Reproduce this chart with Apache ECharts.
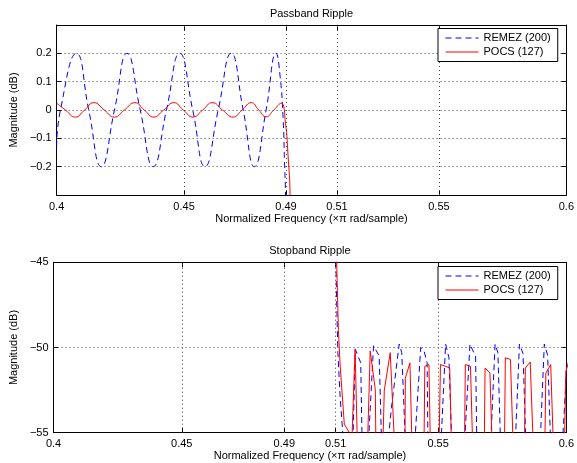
<!DOCTYPE html>
<html>
<head>
<meta charset="utf-8">
<script src="https://cdn.jsdelivr.net/npm/echarts@6/dist/echarts.min.js"></script>
<style>
  html, body { margin: 0; padding: 0; background: #fff; }
  #chart { width: 577px; height: 463px; }
</style>
</head>
<body>
<div id="chart"></div>
<script>
// Frequency ticks (×π rad/sample) shared by both panels
const freqTicks = [0.4, 0.45, 0.49, 0.51, 0.55, 0.6];
const freqGrid = [0.45, 0.49, 0.51, 0.55];

// Passband panel: magnitude ticks (dB)
const passTicks = [-0.2, -0.1, 0, 0.1, 0.2];
const passGrid = [-0.2, -0.1, 0, 0.1, 0.2];

// Stopband panel: magnitude ticks (dB)
const stopTicks = [-55, -50, -45];
const stopGrid = [-50];

const seriesNames = ['REMEZ (200)', 'POCS (127)'];

// Passband ripple [frequency, dB]
const remezPass = [
  [0.4000, -0.13], [0.4015, 0], [0.4078, 0.2], [0.4126, 0], [0.4175, -0.2],
  [0.4227, 0], [0.4276, 0.2], [0.4328, 0], [0.4379, -0.2], [0.4431, 0],
  [0.4483, 0.2], [0.4534, 0], [0.4582, -0.2], [0.4634, 0], [0.4685, 0.2],
  [0.4732, 0], [0.4776, -0.2], [0.4822, 0], [0.4861, 0.2], [0.4877, 0.118],
  [0.4889, -0.035], [0.4894, -0.18], [0.4898, -0.3], [0.4905, -1.5]
];
const pocsPass = [
  [0.4000, 0.024], [0.4035, 0], [0.4073, -0.025], [0.4110, 0], [0.4146, 0.026],
  [0.4187, 0], [0.4226, -0.025], [0.4266, 0], [0.4307, 0.026], [0.4344, 0],
  [0.4381, -0.025], [0.4420, 0], [0.4460, 0.026], [0.4497, 0], [0.4535, -0.025],
  [0.4573, 0], [0.4611, 0.026], [0.4651, 0], [0.4692, -0.025], [0.4728, 0],
  [0.4764, 0.026], [0.4793, 0], [0.4822, -0.024], [0.4852, 0], [0.4881, 0.024],
  [0.4898, -0.047], [0.4908, -0.16], [0.4916, -0.3], [0.4925, -1]
];

// Stopband ripple [frequency, dB]
const remezStop = [
  [0.5097, -42], [0.5106, -48.5], [0.5109, -50.3], [0.5118, -53.0], [0.5128, -55], [0.5135, -57],
  [0.5165, -57], [0.5177, -50.1], [0.5198, -50.9], [0.5205, -57],
  [0.5223, -57], [0.5248, -49.9], [0.5270, -50.5], [0.5282, -57],
  [0.5295, -57], [0.5318, -53.5], [0.5348, -49.8], [0.5358, -50.3], [0.5376, -57],
  [0.5403, -57], [0.5432, -50.0], [0.5445, -50.2], [0.5457, -50.9], [0.5461, -57],
  [0.5507, -57], [0.5529, -49.8], [0.5542, -50.6], [0.5556, -57],
  [0.5598, -57], [0.5624, -49.8], [0.5636, -50.2], [0.5646, -50.5], [0.5652, -57],
  [0.5701, -57], [0.5710, -53.9], [0.5722, -49.8], [0.5733, -50.3], [0.5746, -57],
  [0.5797, -57], [0.5817, -49.8], [0.5831, -50.35], [0.5845, -57],
  [0.5894, -57], [0.5914, -49.8], [0.5927, -50.45], [0.5942, -57],
  [0.5980, -57], [0.6002, -50.9]
];
const pocsStop = [
  [0.5100, -42.5], [0.5111, -49.0], [0.5118, -51.1], [0.5134, -54.5], [0.5154, -55.0], [0.5160, -57],
  [0.5165, -57], [0.5176, -50.1], [0.5187, -57],
  [0.5222, -57], [0.5235, -50.2], [0.5255, -52.5], [0.5258, -57],
  [0.5282, -57], [0.5290, -52.5], [0.5313, -50.3], [0.5334, -57],
  [0.5370, -57], [0.5372, -51.8], [0.5390, -50.9], [0.5400, -57],
  [0.5444, -57], [0.5448, -51.1], [0.5464, -51.0], [0.5471, -57],
  [0.5502, -57], [0.5509, -51.0], [0.5528, -51.1], [0.5545, -51.2], [0.5554, -57],
  [0.5602, -57], [0.5606, -51.0], [0.5626, -51.1], [0.5637, -57],
  [0.5679, -57], [0.5683, -51.2], [0.5702, -51.5], [0.5713, -57],
  [0.5758, -57], [0.5762, -50.6], [0.5782, -50.7], [0.5795, -57],
  [0.5836, -57], [0.5840, -51.2], [0.5859, -50.85], [0.5874, -57],
  [0.5915, -57], [0.5920, -51.5], [0.5939, -51.0], [0.5952, -57],
  [0.5991, -57], [0.5998, -51.4], [0.6010, -50.8]
];

const FONT = "'Liberation Sans', Arial, Helvetica, sans-serif";
const minus = v => String(v).replace('-', '\u2212');

function xAxes(gridIndex, title) {
  const common = {
    gridIndex, type: 'value', min: 0.4, max: 0.6,
    axisLine: { show: true, onZero: false, lineStyle: { color: '#000', width: 1 } },
    axisTick: { show: true, inside: true, length: 5, customValues: freqTicks, lineStyle: { color: '#000' } },
    splitLine: { show: false }
  };
  return [
    Object.assign({}, common, {
      position: 'bottom',
      axisLabel: { customValues: freqTicks, margin: 6, color: '#000', fontSize: 11, fontFamily: FONT, formatter: minus },
      name: 'Normalized Frequency (\u00d7\u03c0 rad/sample)',
      nameLocation: 'middle', nameGap: 18,
      nameTextStyle: { color: '#000', fontSize: 11, fontFamily: FONT }
    }),
    Object.assign({}, common, {
      position: 'top',
      axisLabel: { show: false },
      name: title, nameLocation: 'middle', nameGap: 6,
      nameTextStyle: { color: '#000', fontSize: 11, fontFamily: FONT }
    })
  ];
}

function yAxes(gridIndex, lo, hi, ticks) {
  const common = {
    gridIndex, type: 'value', min: lo, max: hi,
    axisLine: { show: true, onZero: false, lineStyle: { color: '#000', width: 1 } },
    axisTick: { show: true, inside: true, length: 5, customValues: ticks, lineStyle: { color: '#000' } },
    splitLine: { show: false }
  };
  return [
    Object.assign({}, common, {
      position: 'left',
      axisLabel: { customValues: ticks, margin: 5, color: '#000', fontSize: 11, fontFamily: FONT, formatter: minus },
      name: 'Magnitude (dB)', nameLocation: 'middle', nameGap: 34,
      nameTextStyle: { color: '#000', fontSize: 11, fontFamily: FONT }
    }),
    Object.assign({}, common, {
      position: 'right',
      axisLabel: { show: false }
    })
  ];
}

function gridLines(xs, ys) {
  return {
    silent: true, symbol: ['none', 'none'], animation: false,
    label: { show: false },
    lineStyle: { color: '#444', width: 1, type: [1, 3] },
    emphasis: { disabled: true },
    data: xs.map(v => ({ xAxis: v })).concat(ys.map(v => ({ yAxis: v })))
  };
}

const remezStyle = { color: '#0000ff', width: 1, type: [6, 4] };
const pocsStyle = { color: '#ff0000', width: 1 };

// Legend samples show the line only; the point marker is made transparent.
// The legend box sits above the dotted grid.
const legendBase = {
  orient: 'vertical', left: 438, itemWidth: 33, itemHeight: 10, itemGap: 1,
  padding: [3, 7], borderColor: '#000', borderWidth: 1, backgroundColor: '#fff',
  z: 20,
  lineStyle: { width: 1 },
  itemStyle: { opacity: 0 },
  textStyle: { color: '#000', fontSize: 11, fontFamily: FONT, lineHeight: 13 },
  data: seriesNames, selectedMode: false
};

function lineSeries(name, xi, yi, data, style, smooth, withGrid) {
  const s = {
    name, type: 'line', xAxisIndex: xi, yAxisIndex: yi, data,
    smooth, showSymbol: false, symbol: 'none',
    lineStyle: style, itemStyle: { color: style.color },
    emphasis: { disabled: true }
  };
  if (withGrid) s.markLine = withGrid;
  return s;
}

const option = {
  animation: false,
  backgroundColor: '#fff',
  grid: [
    { left: 52.3, top: 25, width: 516, height: 170 },
    { left: 52.3, top: 262.3, width: 516, height: 170.4 }
  ],
  xAxis: xAxes(0, 'Passband Ripple').concat(xAxes(1, 'Stopband Ripple')),
  yAxis: yAxes(0, -0.3, 0.3, passTicks).concat(yAxes(1, -55, -45, stopTicks)),
  legend: [
    Object.assign({}, legendBase, { top: 28.5 }),
    Object.assign({}, legendBase, { top: 266.5 })
  ],
  series: [
    lineSeries(seriesNames[0], 0, 0, remezPass, remezStyle, 0.5, gridLines(freqGrid, passGrid)),
    lineSeries(seriesNames[1], 0, 0, pocsPass, pocsStyle, 0.5, null),
    lineSeries(seriesNames[0], 2, 2, remezStop, remezStyle, false, gridLines(freqGrid, stopGrid)),
    lineSeries(seriesNames[1], 2, 2, pocsStop, pocsStyle, false, null)
  ]
};

const chart = echarts.init(document.getElementById('chart'), null, { renderer: 'canvas' });
chart.setOption(option);
</script>
</body>
</html>
